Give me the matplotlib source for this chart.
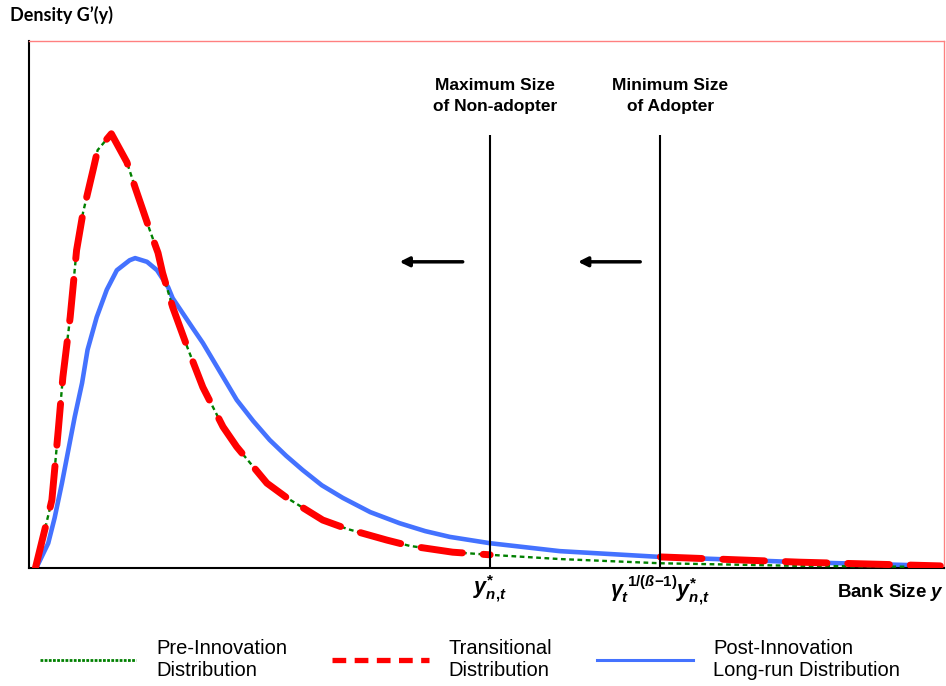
import numpy as np
import matplotlib
matplotlib.use('Agg')
import matplotlib.pyplot as plt
from matplotlib.lines import Line2D

plt.rcParams['font.family'] = ['Liberation Sans', 'DejaVu Sans']
plt.rcParams['mathtext.fontset'] = 'custom'
plt.rcParams['mathtext.rm'] = 'Liberation Sans:bold'
plt.rcParams['mathtext.it'] = 'Liberation Sans:bold:italic'
plt.rcParams['mathtext.bf'] = 'Liberation Sans:bold'

# pre-innovation density (x = bank size, y = density)
pre_x = [0.7, 1.9, 2.5, 3.2, 3.7, 4.5, 5.2, 5.9, 7.0, 7.5, 9.0, 10.7, 11.6, 13.2, 14.1,
         14.6, 15.7, 17.3, 19.0, 21.2, 22.7, 26.0, 28.2, 32.1, 34.8, 39.1, 41.6,
         46.3, 50.4, 58.0, 69.0, 84.3, 99.6]
pre_y = [0, 8.5, 12.9, 26.2, 36.2, 47.6, 60.3, 67.4, 75.5, 79.3, 82.4, 77.0, 72.2, 64.1, 59.8,
         56.0, 49.5, 41.9, 34.3, 26.8, 23.0, 16.1, 13.3, 9.1, 7.4, 5.3, 4.2,
         3.0, 2.5, 1.7, 0.9, 0.4, 0.2]

# post-innovation long-run density
post_x = [0.8, 2.1, 2.8, 3.6, 4.3, 5.0, 5.8, 6.4, 7.4, 8.5, 9.6, 11.0, 11.6, 12.9, 14.0,
          15.2, 15.7, 17.9, 19.0, 22.7, 24.5, 26.3, 28.1, 29.9, 32.0, 34.3, 37.3, 40.5,
          43.3, 46.0, 50.4, 58.0, 69.0, 84.3, 99.6]
post_y = [0, 4.7, 9.5, 16.1, 22.4, 28.7, 35.1, 41.4, 47.6, 52.8, 56.5, 58.4, 58.8, 58.1, 56.5,
          53.3, 51.2, 45.5, 42.7, 31.9, 27.9, 24.3, 21.3, 18.6, 15.7, 13.3, 10.6, 8.5,
          7.0, 5.9, 4.7, 3.2, 2.1, 1.1, 0.4]

# thresholds
y_star = 50.4     # maximum size of non-adopter
y_adopt = 69.0    # minimum size of adopter
tick_labels = [r'$y^{*}_{n{,}t}$', r'$\gamma_{t}^{\ 1/(ß{-}1)}y^{*}_{n{,}t}$']
line_top = 82.2
arrow_y = 58.1
arrows = [(47.4, 40.5), (66.8, 60.0)]

pre_x, pre_y = np.array(pre_x), np.array(pre_y)
post_x, post_y = np.array(post_x), np.array(post_y)

green = '#008000'
red = '#FF0000'
blue = '#4472FF'

fig = plt.figure(figsize=(9.46, 6.86), dpi=100)
ax = fig.add_axes([29/946, 1-568/686, (944-29)/946, (568-41)/686])

ax.plot(post_x, post_y, color=blue, lw=3.3, zorder=2, solid_joinstyle='round')
ax.plot(pre_x, pre_y, color=green, lw=1.7, dashes=(2, 1.5), zorder=3)
m1 = pre_x <= y_star
ax.plot(pre_x[m1], pre_y[m1], color=red, lw=5, dashes=(6, 3),
        dash_capstyle='round', solid_capstyle='round', zorder=4)
m2 = post_x >= y_adopt
ax.plot(post_x[m2], post_y[m2], color=red, lw=5, dashes=(6, 3),
        dash_capstyle='round', solid_capstyle='round', zorder=4)

ax.vlines([y_star, y_adopt], 0, line_top, color='black', lw=1.5, zorder=5)
for x0, x1 in arrows:
    ax.annotate('', xy=(x1, arrow_y), xytext=(x0, arrow_y),
                arrowprops=dict(arrowstyle='-|>', lw=2.5, color='black',
                                mutation_scale=14, shrinkA=0, shrinkB=0))

ax.text(50.9, 89.6, 'Maximum Size\nof Non-adopter', ha='center', va='center',
        fontsize=12.5, fontweight='bold', linespacing=1.5)
ax.text(70.1, 89.6, 'Minimum Size\nof Adopter', ha='center', va='center',
        fontsize=12.5, fontweight='bold', linespacing=1.5)

ax.set_xlim(0, 100)
ax.set_ylim(0, 100)
ax.set_xticks([y_star, y_adopt])
ax.set_xticklabels(tick_labels, fontsize=15.5)
ax.tick_params(axis='x', length=0, pad=4)
ax.set_yticks([])

for s in ['left', 'bottom']:
    ax.spines[s].set_color('black')
    ax.spines[s].set_linewidth(1.5)
for s in ['top', 'right']:
    ax.spines[s].set_color('#FF8080')
    ax.spines[s].set_linewidth(1.0)

ax.text(1.0, -0.047, r'Bank Size $y$', transform=ax.transAxes, ha='right', va='center',
        fontsize=13.5, fontweight='bold')
fig.text(10/946, 1-15/686, 'Density G\u2019(y)', ha='left', va='center',
         fontsize=13, fontweight='bold', family=['Lato', 'DejaVu Sans'])

handles = [Line2D([], [], color=green, lw=2.0, dashes=(1, 0.5)),
           Line2D([], [], color=red, lw=3.8, dashes=(2.6, 1.6)),
           Line2D([], [], color=blue, lw=2.2)]
labels = ['Pre-Innovation\nDistribution', 'Transitional\nDistribution',
          'Post-Innovation\nLong-run Distribution']
leg = fig.legend(handles, labels, loc='center', bbox_to_anchor=(470/946, 1-660/686), ncol=3,
                 frameon=False, fontsize=14.5, handlelength=4.8, handletextpad=1.0,
                 columnspacing=2.2)
for t in leg.get_texts():
    t.set_linespacing(1.2)

fig.savefig('out.png', dpi=100)
